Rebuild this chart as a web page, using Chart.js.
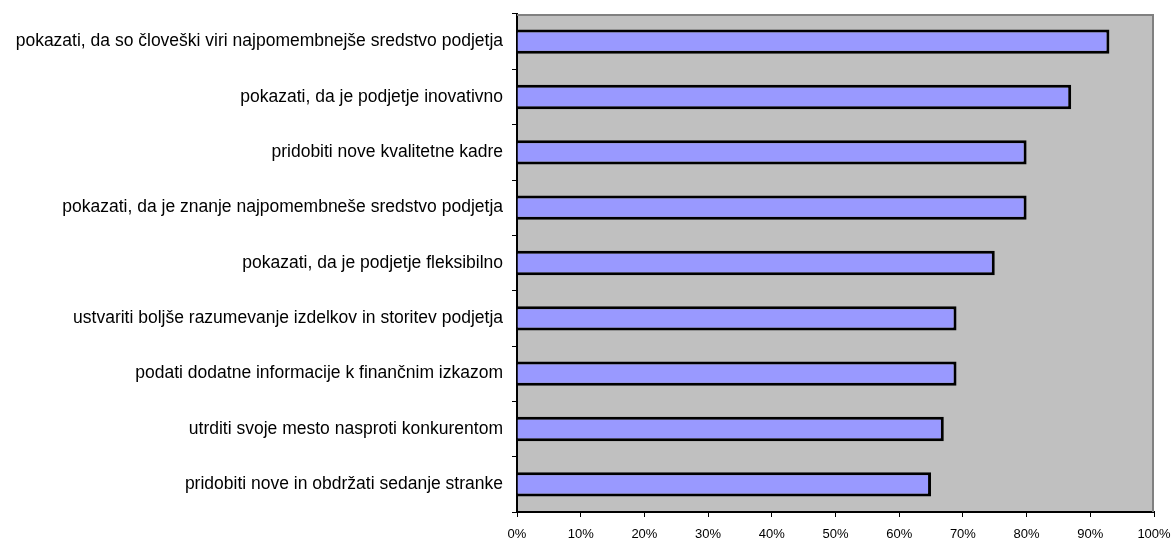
<!DOCTYPE html>
<html>
<head>
<meta charset="utf-8">
<script src="https://cdn.jsdelivr.net/npm/chart.js@4/dist/chart.umd.min.js"></script>
<style>
html,body{margin:0;padding:0;background:#fff;}
#wrap{width:1174px;height:540px;position:relative;}
</style>
</head>
<body>
<div id="wrap"><canvas id="c" width="1174" height="540"></canvas></div>
<script>
const categories = [
  "pokazati, da so človeški viri najpomembnejše sredstvo podjetja",
  "pokazati, da je podjetje inovativno",
  "pridobiti nove kvalitetne kadre",
  "pokazati, da je znanje najpomembneše sredstvo podjetja",
  "pokazati, da je podjetje fleksibilno",
  "ustvariti boljše razumevanje izdelkov in storitev podjetja",
  "podati dodatne informacije k finančnim izkazom",
  "utrditi svoje mesto nasproti konkurentom",
  "pridobiti nove in obdržati sedanje stranke"
];
const values = [93, 87, 80, 80, 75, 69, 69, 67, 65];
const xTicks = [0, 10, 20, 30, 40, 50, 60, 70, 80, 90, 100];

const plotBg = {
  id: 'plotBg',
  beforeDraw(chart) {
    const a = chart.chartArea, ctx = chart.ctx;
    ctx.save();
    ctx.fillStyle = '#C0C0C0';
    ctx.fillRect(a.left, a.top, a.right - a.left, a.bottom - a.top);
    ctx.restore();
  },
  afterDatasetsDraw(chart) {
    const a = chart.chartArea, ctx = chart.ctx;
    ctx.save();
    ctx.strokeStyle = '#808080';
    ctx.lineWidth = 2;
    ctx.beginPath();
    ctx.moveTo(a.left, a.top + 1);
    ctx.lineTo(a.right - 1, a.top + 1);
    ctx.lineTo(a.right - 1, a.bottom);
    ctx.stroke();
    ctx.restore();
  }
};

new Chart(document.getElementById('c'), {
  type: 'bar',
  data: {
    labels: categories,
    datasets: [{
      data: values,
      backgroundColor: '#9999FF',
      borderColor: '#000000',
      borderWidth: 3,
      barPercentage: 0.8,
      categoryPercentage: 0.55
    }]
  },
  options: {
    indexAxis: 'y',
    responsive: false,
    animation: false,
    layout: { padding: { top: 14, right: 20, left: 0, bottom: 0 } },
    plugins: { legend: { display: false }, tooltip: { enabled: false } },
    scales: {
      x: {
        min: 0, max: 100,
        afterBuildTicks(scale) { scale.ticks = xTicks.map(v => ({ value: v })); },
        afterFit(scale) { scale.height = 28; scale.paddingLeft = 0; scale.paddingRight = 0; },
        ticks: {
          color: '#000',
          font: { family: 'Liberation Sans, Arial, sans-serif', size: 13 },
          padding: 10,
          maxRotation: 0,
          callback: v => v + '%'
        },
        grid: { drawOnChartArea: false, drawTicks: true, tickLength: 5, color: '#000', lineWidth: 1 },
        border: { color: '#000', width: 2 }
      },
      y: {
        afterFit(scale) { scale.width = 517; scale.paddingTop = 0; scale.paddingBottom = 0; },
        ticks: {
          color: '#000',
          font: { family: 'Liberation Sans, Arial, sans-serif', size: 17.5 },
          padding: 9,
          autoSkip: false
        },
        grid: { drawOnChartArea: false, drawTicks: true, tickLength: 5, color: '#000', offset: true, lineWidth: 1 },
        border: { color: '#000', width: 2 }
      }
    }
  },
  plugins: [plotBg]
});
</script>
</body>
</html>
